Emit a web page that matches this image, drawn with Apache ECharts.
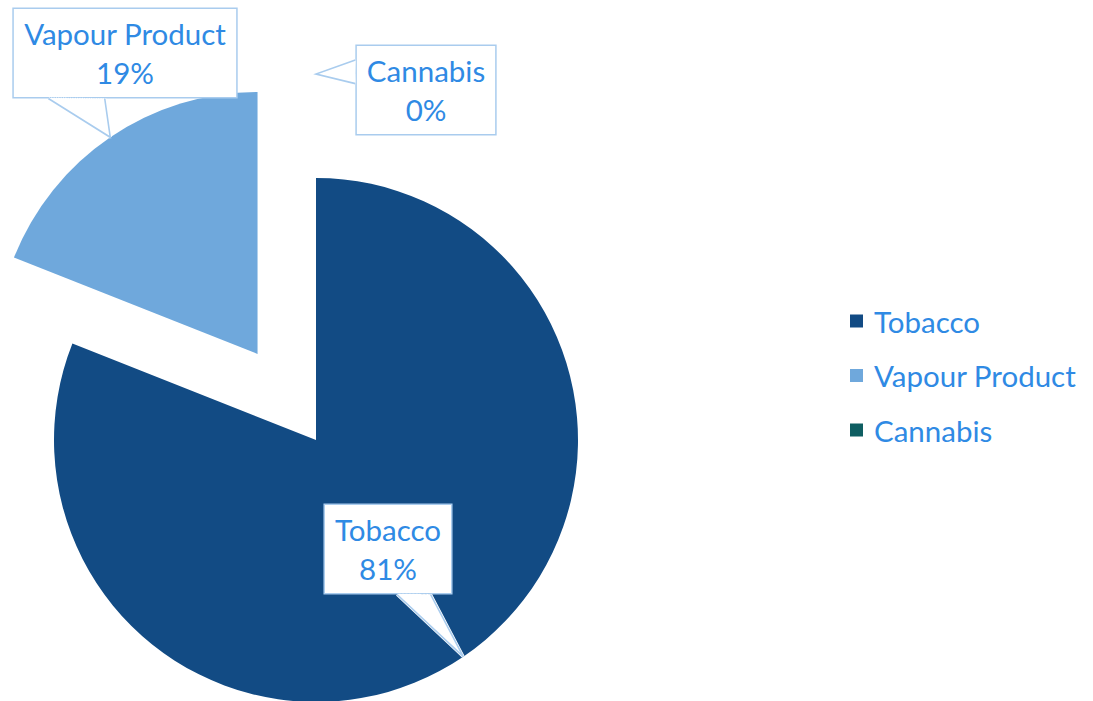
<!DOCTYPE html>
<html>
<head>
<meta charset="utf-8">
<title>Product share</title>
<script src="https://cdn.jsdelivr.net/npm/echarts@6/dist/echarts.min.js"></script>
<style>
  html, body { margin: 0; padding: 0; background: #ffffff; }
  #chart { width: 1093px; height: 701px; }
</style>
</head>
<body>
<div id="chart"></div>
<script>
// Share of products (percent)
const categories = ['Tobacco', 'Vapour Product', 'Cannabis'];
const shares = [81, 19, 0];
const sliceColors = ['#124b84', '#6fa8dc', '#0f5e62'];
const explodedCategory = 'Vapour Product';

const textBlue = '#2f8ae4';
const calloutBorder = '#a9ccee';
const font = 'Lato';
const fontSize = 29.5;

const pieCenter = [316, 440];
const pieRadius = 262;
const explodeOffset = 104;

// Callout boxes: centre, the box edge carrying the pointer, and where the
// pointer's base sits along that edge (fractions of the edge length).
// ring 'outer' points at the exploded ring (radius + explode offset).
const callouts = {
  'Tobacco':        { center: [388, 549], edge: 'bottom', base: [0.57, 0.83], ring: 'inner' },
  'Vapour Product': { center: [125, 53],  edge: 'bottom', base: [0.16, 0.41], ring: 'outer' },
  'Cannabis':       { center: [426, 90],  edge: 'left',   base: [0.17, 0.43], ring: 'outer' }
};
const ringRadius = { inner: pieRadius, outer: pieRadius + explodeOffset };

const baseLabel = {
  show: true,
  position: 'outside',
  formatter: '{b}\n{d}%',
  fontFamily: font,
  fontSize: fontSize,
  lineHeight: 39,
  align: 'center',
  borderWidth: 1.5,
  padding: [5, 10, 5, 10]
};
const clearLabel = Object.assign({}, baseLabel, {
  color: 'rgba(0,0,0,0)', backgroundColor: 'rgba(0,0,0,0)', borderColor: 'rgba(0,0,0,0)'
});

// Callouts are stacked in three layers:
// 'box' draws the framed text, 'fill' paints the pointer's white body
// (opening the frame where it joins), 'edge' draws the pointer's sides.
const layerStyle = {
  box: {
    label: Object.assign({}, baseLabel, {
      color: textBlue, backgroundColor: '#ffffff', borderColor: calloutBorder
    }),
    line: false,
    lineStyle: { color: calloutBorder, width: 1.6 }
  },
  fill: {
    label: clearLabel,
    line: true,
    lineStyle: { color: '#ffffff', width: 3 }
  },
  edge: {
    label: clearLabel,
    line: true,
    lineStyle: { color: calloutBorder, width: 1.6 }
  }
};

// Places a callout box and builds its wedge pointer toward the slice
function calloutLayout(layer) {
  return function (params) {
    const c = callouts[categories[params.dataIndex]];
    if (!c || !params.labelLinePoints) return {};
    const w = params.labelRect.width;
    const h = params.labelRect.height;
    const left = c.center[0] - w / 2;
    const top = c.center[1] - h / 2;
    const tip = [params.labelLinePoints[0][0], params.labelLinePoints[0][1]];
    let a, b;
    if (c.edge === 'bottom') {
      a = [left + w * c.base[0], top + h];
      b = [left + w * c.base[1], top + h];
    } else if (c.edge === 'top') {
      a = [left + w * c.base[0], top];
      b = [left + w * c.base[1], top];
    } else if (c.edge === 'left') {
      a = [left, top + h * c.base[0]];
      b = [left, top + h * c.base[1]];
    } else {
      a = [left + w, top + h * c.base[0]];
      b = [left + w, top + h * c.base[1]];
    }
    let points;
    if (layer === 'fill') {
      // fan of strokes from the base to the tip
      points = [];
      const steps = 24;
      for (let k = 0; k <= steps; k++) {
        const t = k / steps;
        points.push([a[0] + (b[0] - a[0]) * t, a[1] + (b[1] - a[1]) * t]);
        points.push(tip);
      }
    } else {
      points = [a, tip, b];
    }
    return {
      x: c.center[0],
      y: c.center[1],
      align: 'center',
      verticalAlign: 'middle',
      labelLinePoints: points
    };
  };
}

// Invisible pie carrying one layer of the callouts that point at one ring
function calloutSeries(ring, layer, z) {
  const style = layerStyle[layer];
  return {
    name: 'callouts-' + ring + '-' + layer,
    type: 'pie',
    z: z,
    silent: true,
    center: pieCenter,
    radius: ringRadius[ring],
    startAngle: 90,
    clockwise: true,
    percentPrecision: 0,
    avoidLabelOverlap: false,
    emphasis: { disabled: true },
    itemStyle: { color: 'rgba(0,0,0,0)', borderWidth: 0 },
    label: style.label,
    labelLine: { show: true, length: 10, length2: 10, lineStyle: style.lineStyle },
    labelLayout: calloutLayout(layer),
    data: categories.map((name, i) => {
      const show = !!(callouts[name] && callouts[name].ring === ring);
      return {
        name: name,
        value: shares[i],
        label: { show: show },
        labelLine: { show: show && style.line }
      };
    })
  };
}

const chart = echarts.init(document.getElementById('chart'), null, { renderer: 'svg' });

chart.setOption({
  animation: false,
  backgroundColor: '#ffffff',
  legend: {
    orient: 'vertical',
    left: 845,
    top: 301,
    icon: 'rect',
    itemWidth: 13,
    itemHeight: 13,
    itemGap: 24.5,
    selectedMode: false,
    data: categories,
    textStyle: {
      color: textBlue, fontFamily: font, fontSize: fontSize,
      lineHeight: 30, padding: [0, 0, 0, 6]
    }
  },
  series: [
    {
      // the pie itself
      name: 'share',
      type: 'pie',
      z: 2,
      center: pieCenter,
      radius: pieRadius,
      startAngle: 90,
      clockwise: true,
      selectedMode: 'multiple',
      selectedOffset: explodeOffset,
      emphasis: { disabled: true },
      itemStyle: { borderWidth: 0 },
      label: { show: false },
      labelLine: { show: false },
      data: categories.map((name, i) => ({
        name: name,
        value: shares[i],
        selected: name === explodedCategory,
        itemStyle: { color: sliceColors[i] }
      }))
    },
    calloutSeries('inner', 'box', 4),
    calloutSeries('outer', 'box', 4),
    calloutSeries('inner', 'fill', 5),
    calloutSeries('outer', 'fill', 5),
    calloutSeries('inner', 'edge', 6),
    calloutSeries('outer', 'edge', 6)
  ]
});
</script>
</body>
</html>
